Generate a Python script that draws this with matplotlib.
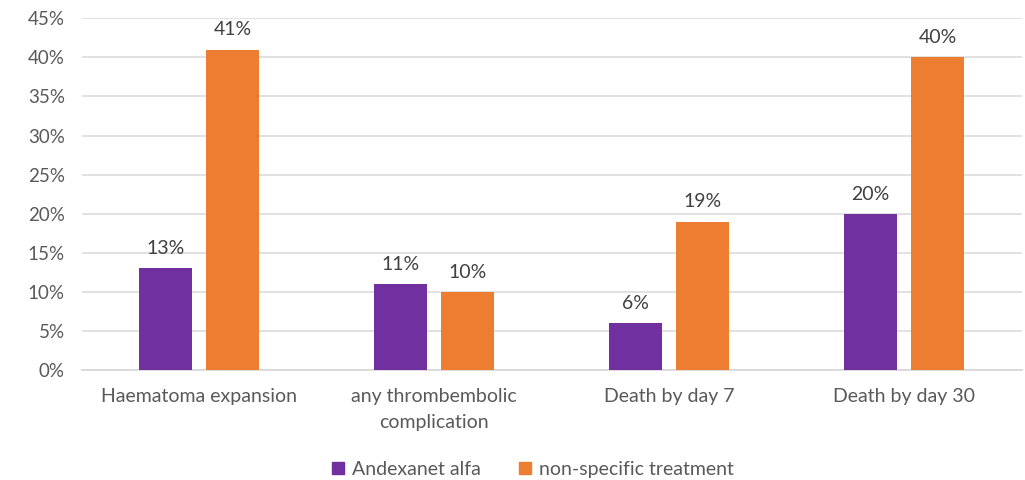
import matplotlib
matplotlib.use("Agg")
import matplotlib.pyplot as plt
from matplotlib.patches import Patch
import numpy as np

plt.rcParams['font.family'] = ['Lato', 'DejaVu Sans']

categories = ["Haematoma expansion", "any thrombembolic\ncomplication",
              "Death by day 7", "Death by day 30"]
andexanet = [13, 11, 6, 20]
nonspecific = [41, 10, 19, 40]
series_names = ["Andexanet alfa", "non-specific treatment"]
yticks = [0, 5, 10, 15, 20, 25, 30, 35, 40, 45]

purple = "#7030A0"
orange = "#ED7D31"
text_grey = "#595959"
grid_grey = "#D9D9D9"

fig = plt.figure(figsize=(10.25, 4.8), dpi=100)
ax = fig.add_axes([81.5 / 1025, 110 / 480, 940 / 1025, 351.7 / 480])

x = np.arange(len(categories))
w = 0.225
off = 0.1425
b1 = ax.bar(x - off, andexanet, w, color=purple, zorder=3)
b2 = ax.bar(x + off, nonspecific, w, color=orange, zorder=3)

for bars, vals in ((b1, andexanet), (b2, nonspecific)):
    for rect, v in zip(bars, vals):
        ax.annotate(f"{v}%", (rect.get_x() + rect.get_width() / 2, v),
                    xytext=(0, 8), textcoords="offset points",
                    ha="center", va="bottom", fontsize=14, color="#404040")

ax.set_xlim(-0.5, len(categories) - 0.5)
ax.set_ylim(0, 45)
ax.set_yticks(yticks)
ax.set_yticklabels([f"{t}%" for t in yticks])
ax.set_xticks(x)
ax.set_xticklabels(categories, linespacing=1.65)
ax.tick_params(axis="both", length=0, labelsize=14, labelcolor=text_grey)
ax.tick_params(axis="y", labelsize=13.5, pad=12)
ax.tick_params(axis="x", pad=13)
for lab in ax.get_yticklabels():
    lab.set_horizontalalignment("right")

ax.yaxis.grid(True, color=grid_grey, linewidth=1.1, zorder=0)
for s in ("top", "right", "left"):
    ax.spines[s].set_visible(False)
ax.spines["bottom"].set_color(grid_grey)
ax.spines["bottom"].set_linewidth(1.3)

handles = [Patch(color=purple), Patch(color=orange)]
fig.legend(handles, series_names, loc="center", bbox_to_anchor=(533 / 1025, 1 - 469.5 / 480),
           ncol=2, frameon=False, fontsize=14, handlelength=0.6, handleheight=0.6,
           handletextpad=0.4, columnspacing=2.0, labelcolor=text_grey)

fig.savefig("out.png", dpi=100)
